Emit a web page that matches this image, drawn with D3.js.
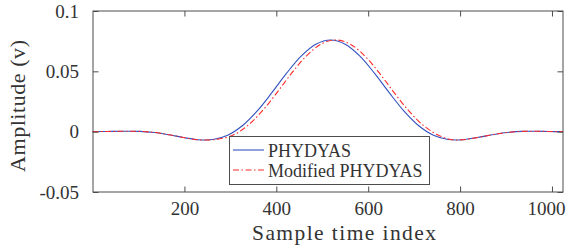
<!DOCTYPE html>
<html>
<head>
<meta charset="utf-8">
<script src="https://cdn.jsdelivr.net/npm/d3@7"></script>
<style>
  html, body { margin: 0; padding: 0; background: #fff; }
  svg { display: block; }
</style>
</head>
<body>
<div id="chart"></div>
<script>
// Prototype filter impulse responses (about every 32 samples)
const phydyasX = [0, 32, 64, 102, 134, 166, 198, 230, 262, 294, 326, 358, 390, 422, 454, 486, 518,
                  550, 582, 614, 646, 678, 710, 742, 774, 806, 838, 870, 902, 934, 966, 992, 1024];
const phydyasY = [0, 0.00014, 0.00037, 0.00026, -0.00066, -0.00251, -0.00486, -0.00668, -0.00652,
                  -0.00297, 0.00486, 0.01696, 0.03213, 0.04825, 0.06257, 0.07247, 0.0760,
                  0.07247, 0.06257, 0.04825, 0.03213, 0.01696, 0.00486, -0.00297, -0.00652,
                  -0.00668, -0.00486, -0.00251, -0.00066, 0.00026, 0.00037, 0.00014, 0];

const modX = [0, 32, 64, 102, 134, 166, 198, 230, 268, 305, 337, 369, 401, 433, 465, 497, 529,
              561, 593, 625, 657, 689, 721, 753, 780, 806, 838, 870, 902, 934, 966, 992, 1024];
const modY = [0, 0.00014, 0.00037, 0.00026, -0.00066, -0.00251, -0.00486, -0.00668, -0.00652,
              -0.00297, 0.00486, 0.01696, 0.03213, 0.04825, 0.06257, 0.07247, 0.0760,
              0.07247, 0.06257, 0.04825, 0.03213, 0.01696, 0.00486, -0.00297, -0.00652,
              -0.00668, -0.00486, -0.00251, -0.00066, 0.00026, 0.00037, 0.00014, 0];

const xTicks = [200, 400, 600, 800, 1000];
const yTicks = [-0.05, 0, 0.05, 0.1];
const yTickLabels = ['-0.05', '0', '0.05', '0.1'];
const seriesNames = ['PHYDYAS', 'Modified PHYDYAS'];

const W = 566, H = 249;
const m = { left: 93, right: 563, top: 11, bottom: 192 };
const FONT = 'Liberation Serif';
const textColor = '#333';

const svg = d3.select('#chart').append('svg')
  .attr('width', W).attr('height', H)
  .attr('font-family', FONT);

const x = d3.scaleLinear().domain([1, 1024]).range([m.left, m.right]);
const y = d3.scaleLinear().domain([-0.05, 0.1]).range([m.bottom, m.top]);

const axisColor = '#4d4d4d';

// curves
const line = d3.line()
  .x(d => x(d[0]))
  .y(d => y(d[1]))
  .curve(d3.curveCatmullRom.alpha(0.5));

const series = [
  { name: seriesNames[0], pts: d3.zip(phydyasX, phydyasY), color: '#3352c0', dash: null },
  { name: seriesNames[1], pts: d3.zip(modX, modY), color: '#ff2b2b', dash: '6,2.5,1.5,2.5' },
];

const plot = svg.append('g');
series.forEach(s => {
  plot.append('path')
    .attr('d', line(s.pts))
    .attr('fill', 'none')
    .attr('stroke', s.color)
    .attr('stroke-width', 1.1)
    .attr('stroke-dasharray', s.dash);
});

// axes (ticks inward, box on)
function styleAxis(g) {
  g.attr('font-family', FONT).attr('font-size', 19);
  g.select('.domain').remove();
  g.selectAll('line').attr('stroke', axisColor);
  g.selectAll('text').attr('fill', textColor);
}

const xAxisG = svg.append('g')
  .attr('transform', `translate(0,${m.bottom})`)
  .call(d3.axisBottom(x).tickValues(xTicks).tickSize(-5.5).tickPadding(10)
    .tickFormat(d3.format('d')))
  .call(styleAxis);

// last label sits flush with the right edge, as in the original
xAxisG.selectAll('.tick text')
  .filter(d => d === 1000)
  .attr('text-anchor', 'end')
  .attr('x', 13);

svg.append('g')
  .attr('transform', `translate(0,${m.top})`)
  .call(d3.axisTop(x).tickValues(xTicks).tickSize(-5.5).tickFormat(''))
  .call(styleAxis);

svg.append('g')
  .attr('transform', `translate(${m.left},0)`)
  .call(d3.axisLeft(y).tickValues(yTicks).tickSize(-5.5).tickPadding(14)
    .tickFormat((d, i) => yTickLabels[i]))
  .call(styleAxis);

svg.append('g')
  .attr('transform', `translate(${m.right},0)`)
  .call(d3.axisRight(y).tickValues(yTicks).tickSize(-5.5).tickFormat(''))
  .call(styleAxis);

svg.append('rect')
  .attr('x', m.left).attr('y', m.top)
  .attr('width', m.right - m.left).attr('height', m.bottom - m.top)
  .attr('fill', 'none')
  .attr('stroke', axisColor)
  .attr('stroke-width', 1);

// axis titles
svg.append('text')
  .attr('x', 344)
  .attr('y', 240)
  .attr('text-anchor', 'middle')
  .attr('font-family', FONT)
  .attr('font-size', 21.5)
  .attr('textLength', 184)
  .attr('lengthAdjust', 'spacing')
  .attr('fill', textColor)
  .text('Sample time index');

svg.append('text')
  .attr('transform', 'translate(25,106) rotate(-90)')
  .attr('text-anchor', 'middle')
  .attr('font-family', FONT)
  .attr('font-size', 22)
  .attr('textLength', 132)
  .attr('lengthAdjust', 'spacing')
  .attr('fill', textColor)
  .text('Amplitude (v)');

// legend
const lg = svg.append('g');
lg.append('rect')
  .attr('x', 229.5).attr('y', 136.5)
  .attr('width', 200).attr('height', 48)
  .attr('fill', '#fff')
  .attr('stroke', axisColor)
  .attr('stroke-width', 1);

const rowY = [150, 170];
series.forEach((s, i) => {
  lg.append('line')
    .attr('x1', 233).attr('x2', 264)
    .attr('y1', rowY[i]).attr('y2', rowY[i])
    .attr('stroke', s.color)
    .attr('stroke-width', 1.1)
    .attr('stroke-dasharray', s.dash);
  lg.append('text')
    .attr('x', 268)
    .attr('y', rowY[i] + 6.5)
    .attr('font-family', FONT)
    .attr('font-size', 18)
    .attr('fill', textColor)
    .text(s.name);
});
</script>
</body>
</html>
